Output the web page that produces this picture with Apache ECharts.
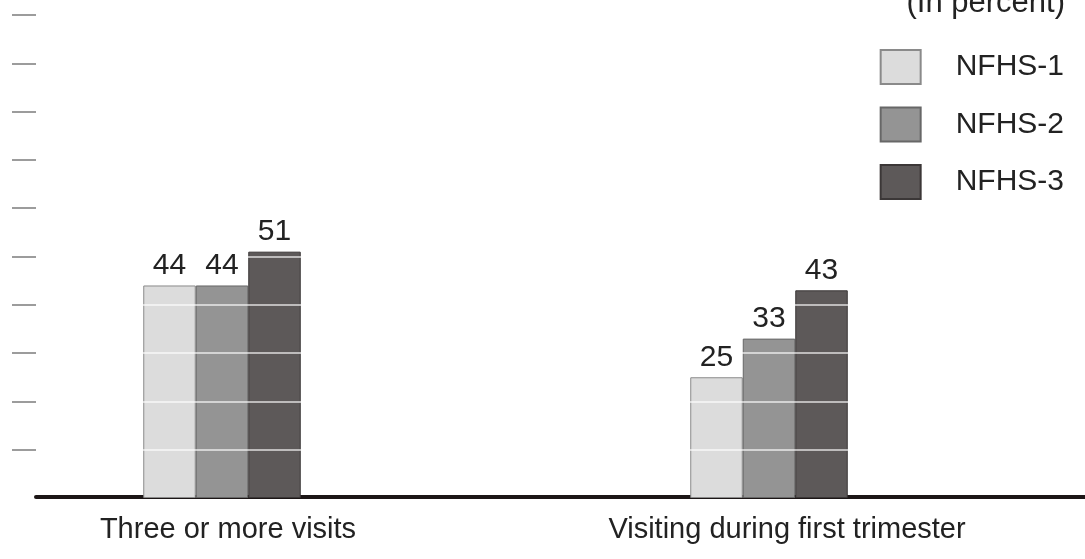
<!DOCTYPE html>
<html>
<head>
<meta charset="utf-8">
<script src="https://cdn.jsdelivr.net/npm/echarts@6/dist/echarts.min.js"></script>
<style>
  html, body { margin: 0; padding: 0; background: #ffffff; }
  #chart { width: 1085px; height: 559px; }
</style>
</head>
<body>
<div id="chart"></div>
<script>
// Antenatal care indicators across three survey rounds (percent)
const categories = ['Three or more visits', 'Visiting during first trimester'];
const seriesNames = ['NFHS-1', 'NFHS-2', 'NFHS-3'];
const nfhs1 = [44, 25];
const nfhs2 = [44, 33];
const nfhs3 = [51, 43];
const unitNote = '(In percent)';

const FONT = '"Liberation Sans", Arial, Helvetica, sans-serif';
const fills = ['#dcdcdc', '#949494', '#5d5959'];
const borders = ['#8a8a8a', '#676767', '#3b3737'];
const values = [nfhs1, nfhs2, nfhs3];

const chart = echarts.init(document.getElementById('chart'), null, { renderer: 'canvas' });

// Filled bars (below the white guide lines)
const barSeries = seriesNames.map((name, i) => ({
  name: name,
  type: 'bar',
  xAxisIndex: 0,
  yAxisIndex: 0,
  z: 2,
  data: values[i],
  barWidth: 52.5,
  barGap: '0%',
  itemStyle: { color: fills[i], borderColor: borders[i], borderWidth: 1 },
  label: { show: false },
  silent: true
}));

// Same bars on a twin axis, transparent, carrying the value labels above the guide lines
const labelSeries = seriesNames.map((name, i) => ({
  name: name + ' values',
  type: 'bar',
  xAxisIndex: 3,
  yAxisIndex: 0,
  z: 5,
  data: values[i],
  barWidth: 52.5,
  barGap: '0%',
  itemStyle: { color: 'rgba(0,0,0,0)' },
  label: {
    show: true,
    position: 'top',
    distance: 5,
    color: '#222222',
    fontFamily: FONT,
    fontSize: 30
  },
  silent: true
}));

const labelStyle = { fontFamily: FONT, fontSize: 29, color: '#222222' };

const categoryAxis = (gridIndex, showLabels) => ({
  type: 'category',
  gridIndex: gridIndex,
  data: categories,
  show: showLabels,
  axisLine: { show: false },
  axisTick: { show: false },
  axisLabel: {
    show: showLabels,
    margin: 17,
    fontFamily: FONT,
    fontSize: 29,
    color: '#222222',
    formatter: (value, index) => '{c' + index + '|' + value + '}',
    rich: {
      c0: Object.assign({ padding: [0, 0, 0, 12] }, labelStyle),
      c1: Object.assign({ padding: [0, 0, 0, 36] }, labelStyle)
    }
  }
});

chart.setOption({
  animation: false,
  backgroundColor: '#ffffff',
  title: {
    text: unitNote,
    right: 20,
    top: -12,
    padding: 0,
    textStyle: { fontFamily: FONT, fontSize: 31, fontWeight: 'normal', color: '#222222' }
  },
  legend: {
    orient: 'vertical',
    right: 21,
    top: 49,
    padding: 0,
    icon: 'rect',
    itemWidth: 40,
    itemHeight: 34,
    itemGap: 21.5,
    data: seriesNames,
    selectedMode: false,
    textStyle: { fontFamily: FONT, fontSize: 30, color: '#222222', padding: [0, 0, 10, 30] }
  },
  grid: [
    // bars
    { left: -51.5, right: 42.5, top: 15, bottom: 61, outerBoundsMode: 'none', containLabel: false },
    // baseline
    { left: 36, right: 0, top: 15, bottom: 62, outerBoundsMode: 'none', containLabel: false },
    // outer tick marks
    { left: 12, width: 24, top: 15, bottom: 61, outerBoundsMode: 'none', containLabel: false }
  ],
  xAxis: [
    categoryAxis(0, true),
    {
      type: 'value',
      gridIndex: 1,
      min: 0,
      max: 1,
      axisLine: { show: true, lineStyle: { color: '#1c1616', width: 4 } },
      axisTick: { show: false },
      axisLabel: { show: false },
      splitLine: { show: false }
    },
    { type: 'value', gridIndex: 2, show: false },
    categoryAxis(0, false)
  ],
  yAxis: [
    {
      type: 'value',
      gridIndex: 0,
      min: 0,
      max: 100,
      interval: 10,
      z: 3,
      axisLine: { show: false },
      axisTick: { show: false },
      axisLabel: { show: false },
      splitLine: { show: true, showMinLine: false, showMaxLine: false, lineStyle: { color: '#ffffff', opacity: 0.8, width: 1.5 } }
    },
    { type: 'value', gridIndex: 1, show: false, min: 0, max: 100 },
    {
      type: 'value',
      gridIndex: 2,
      min: 0,
      max: 100,
      interval: 10,
      z: 4,
      axisLine: { show: false },
      axisTick: { show: false },
      axisLabel: { show: false },
      splitLine: { show: true, showMinLine: false, lineStyle: { color: '#9c9c9c', width: 2 } }
    }
  ],
  series: barSeries.concat(labelSeries)
});
</script>
</body>
</html>
